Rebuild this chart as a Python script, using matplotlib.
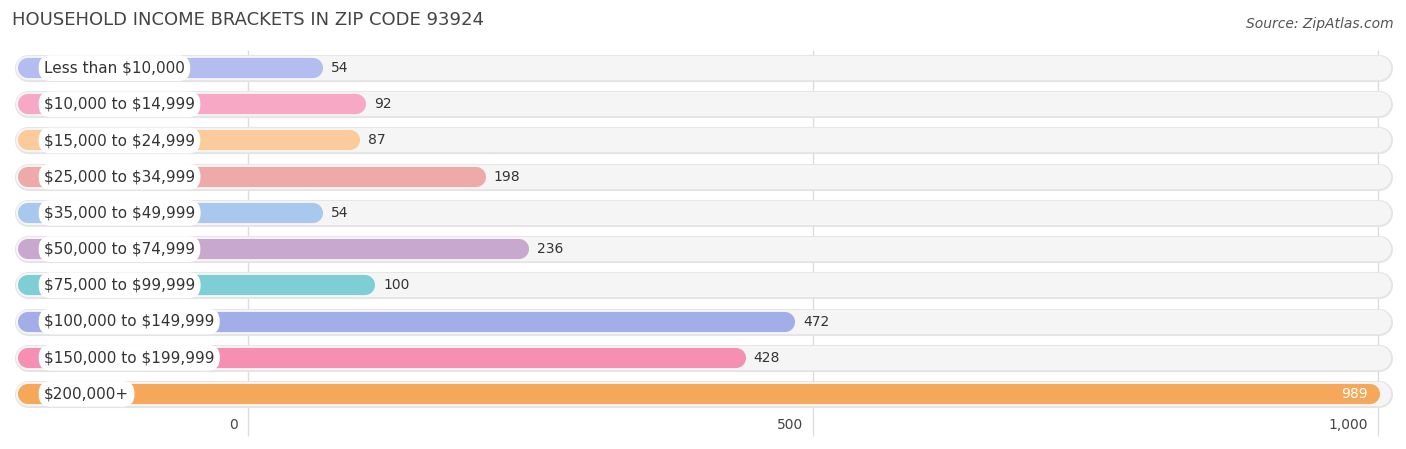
import matplotlib
matplotlib.use('Agg')
import matplotlib.pyplot as plt
import matplotlib.transforms as mtransforms

plt.rcParams['text.parse_math'] = False

brackets = ["Less than $10,000", "$10,000 to $14,999", "$15,000 to $24,999",
            "$25,000 to $34,999", "$35,000 to $49,999", "$50,000 to $74,999",
            "$75,000 to $99,999", "$100,000 to $149,999", "$150,000 to $199,999",
            "$200,000+"]
households = [54, 92, 87, 198, 54, 236, 100, 472, 428, 989]
colors = ["#b4bdf0", "#f6a8c4", "#fbcb9c", "#eeaaa8", "#a8c8ee",
          "#c9a8cf", "#7dcfd5", "#a2aee8", "#f590b3", "#f6a85a"]
ticks = [0, 500, 1000]
tick_labels = ["0", "500", "1,000"]

W, H = 1406, 449
fig = plt.figure(figsize=(W / 100, H / 100), dpi=100)
# x: pixel = 252 + v*1.13
px_per = 1.13
zero_px = 252
x0 = (10 - zero_px) / px_per
x1 = (1395 - zero_px) / px_per
ax = fig.add_axes([10 / W, (H - 412) / H, 1385 / W, 362 / H])
ax.set_xlim(x0, x1)
ax.set_ylim(9.5, -0.5)
ax.axis('off')

grid_x = [(248 - zero_px) / px_per, (813 - zero_px) / px_per, (1378 - zero_px) / px_per]
ax.vlines(grid_x, -0.5, 10.15, colors="#dddddd", lw=1, zorder=0, clip_on=False)

bg_l = (28 - zero_px) / px_per
bg_r = (1379 - zero_px) / px_per
bar_l = (28 - zero_px) / px_per
for i, (lab, v, c) in enumerate(zip(brackets, households, colors)):
    ax.plot([bg_l, bg_r], [i, i], color="#e4e4e4", lw=19.5, solid_capstyle='round', zorder=1)
    ax.plot([bg_l, bg_r], [i, i], color="#f5f5f5", lw=17.5, solid_capstyle='round', zorder=1)
    ax.plot([bar_l, v], [i, i], color=c, lw=14.5, solid_capstyle='round', zorder=2)
    ax.text(bar_l + 16 / px_per, i, lab, ha='left', va='center', fontsize=11, color="#333333", zorder=4,
            bbox=dict(boxstyle="round,pad=0.35,rounding_size=0.8", fc="white", ec="none"))
    if v > 900:
        ax.text(v - 2, i, str(v), ha='right', va='center', fontsize=10, color="white", zorder=4)
    else:
        ax.text(v + 18 / px_per, i, str(v), ha='left', va='center', fontsize=10, color="#333333", zorder=4)

off = mtransforms.offset_copy(ax.transData, fig=fig, x=-10, y=0, units='dots')
for gx, tl in zip(grid_x, tick_labels):
    ax.text(gx, 9.85, tl, ha='right', va='center', fontsize=10, color="#444444",
            transform=off, clip_on=False)

fig.text(12 / W, 1 - 20 / H, "HOUSEHOLD INCOME BRACKETS IN ZIP CODE 93924", fontsize=13,
         color="#444444", ha='left', va='center')
fig.text(1394 / W, 1 - 24 / H, "Source: ZipAtlas.com", fontsize=10, color="#555555",
         style='italic', ha='right', va='center')

fig.savefig("out.png", dpi=100)
